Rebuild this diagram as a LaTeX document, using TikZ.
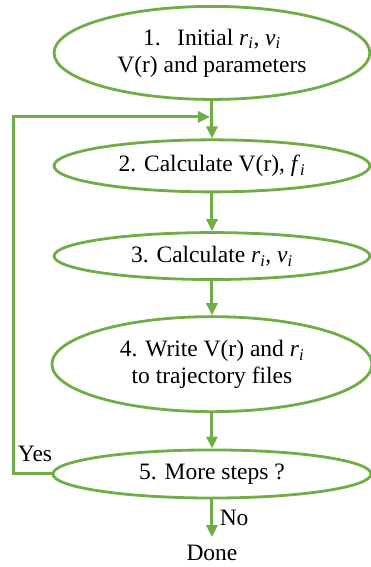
\documentclass[tikz,border=0pt]{standalone}
\usepackage{fontspec}
\setmainfont{Liberation Serif}
\usepackage{xcolor}
\usetikzlibrary{positioning,shapes.geometric,arrows.meta}

\definecolor{flowgreen}{RGB}{112,173,71}
\newcommand{\ivar}[2]{\textit{#1}\textsubscript{\textit{#2}}}

\begin{document}
\begin{tikzpicture}[
    stepbox/.style={ellipse, draw=flowgreen, line width=2.8pt, inner sep=0pt,
        minimum width=11.1cm, align=center, font=\fontsize{23.5}{27}\selectfont},
    flow/.style={draw=flowgreen, line width=3pt, -{Triangle[length=12pt,width=11pt]}},
    lbl/.style={font=\fontsize{23.5}{27}\selectfont},
]

% Frame
\useasboundingbox (0,0) rectangle (13.04,-19.93);

% Steps
\node[stepbox, minimum height=3.27cm] (s1) at (7.45,-1.86) {1.\hspace{0.7em}Initial \ivar{r}{i}, \ivar{v}{i}\\V(r) and parameters};
\node[stepbox, minimum height=1.83cm] (s2) at (7.45,-5.83) {2. Calculate V(r), \ivar{f}{i}};
\node[stepbox, minimum height=1.65cm] (s3) at (7.45,-9.0) {3. Calculate \ivar{r}{i}, \ivar{v}{i}};
\node[stepbox, minimum height=3.34cm, minimum width=11.25cm] (s4) at (7.45,-12.8) {4. Write V(r) and \ivar{r}{i}\\to trajectory files};
\node[stepbox, minimum height=1.69cm, minimum width=11.18cm] (s5) at (7.45,-16.66) {5. More steps ?};

% End
\node[lbl] (done) at (7.45,-19.44) {Done};
\coordinate (stop) at (7.45,-18.88);
\node[lbl, anchor=west] (no) at (7.6,-18.2) {No};
\node[lbl] (yes) at (1.23,-15.96) {Yes};

% Loop back
\coordinate (back) at (0.46,-4.11);
\coordinate (join) at (7.38,-4.11);

% Arrows
\draw[flow] (s1) -- (s2);
\draw[flow] (s2) -- (s3);
\draw[flow] (s3) -- (s4);
\draw[flow] (s4) -- (s5);
\draw[flow] (s5) -- (stop);
\draw[flow] (s5.west) -| (back) -- (join);

\end{tikzpicture}
\end{document}
